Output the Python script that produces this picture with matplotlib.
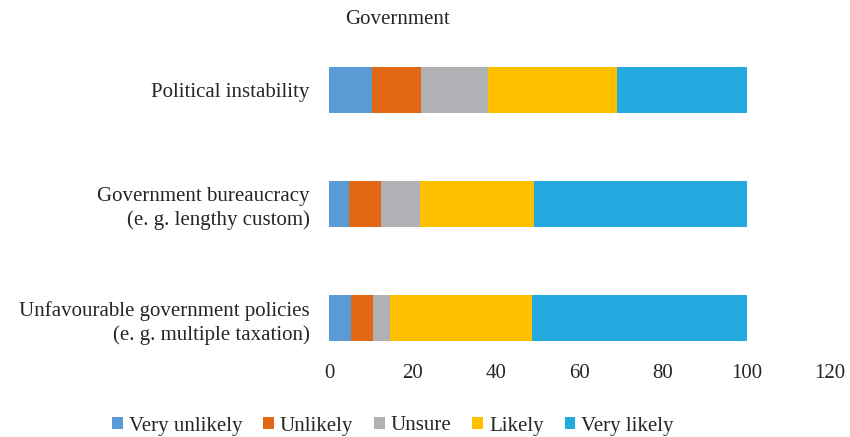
import matplotlib.pyplot as plt
import numpy as np

# data (percent of respondents)
CATEGORIES = [
    "Unfavourable government policies\n(e. g. multiple taxation)",
    "Government bureaucracy\n(e. g. lengthy custom)",
    "Political instability",
]
RESPONSES = ["Very unlikely", "Unlikely", "Unsure", "Likely", "Very likely"]
very_unlikely = [5.3, 4.8, 10.3]
unlikely = [5.3, 7.7, 11.8]
unsure = [4.0, 9.3, 15.9]
likely = [34.0, 27.2, 30.9]
very_likely = [51.4, 51.0, 31.1]

COLORS = ["#5B9BD5", "#E06815", "#B0B1B5", "#FFC000", "#23ABE0"]
TEXT_COLOR = "#262626"
FONT_SIZE = 15

plt.rcParams["font.family"] = ["Liberation Serif", "DejaVu Serif"]

fig = plt.figure(figsize=(8.5, 4.37), dpi=100)
ax = fig.add_axes([329 / 850, 79 / 437, (830 - 329) / 850, (404 - 79) / 437])

y = np.arange(len(CATEGORIES))
left = np.zeros(len(CATEGORIES))
series = [very_unlikely, unlikely, unsure, likely, very_likely]
for values, label, color in zip(series, RESPONSES, COLORS):
    ax.barh(y, values, left=left, height=0.4, color=color, label=label)
    left += np.array(values)

ax.set_xlim(0, 120)
ax.set_xticks(range(0, 121, 20))
ax.set_ylim(-0.35, 2.5)
ax.set_yticks(y)
ax.set_yticklabels(CATEGORIES, ha="right", multialignment="right",
                   linespacing=1.3)
ax.tick_params(axis="both", length=0, labelsize=FONT_SIZE, colors=TEXT_COLOR)
ax.tick_params(axis="y", pad=14)
ax.tick_params(axis="x", pad=4)
for spine in ax.spines.values():
    spine.set_visible(False)

fig.text(397 / 850, 1 - 20 / 437, "Government", ha="center", va="center",
         fontsize=FONT_SIZE, color=TEXT_COLOR)

fig.legend(loc="center", bbox_to_anchor=(393 / 850, 1 - 426 / 437), ncol=5,
           frameon=False, fontsize=FONT_SIZE, handlelength=0.5, handleheight=0.5,
           handletextpad=0.3, columnspacing=1.0, labelcolor=TEXT_COLOR,
           borderpad=0.1)

fig.savefig("out.png", dpi=100)
